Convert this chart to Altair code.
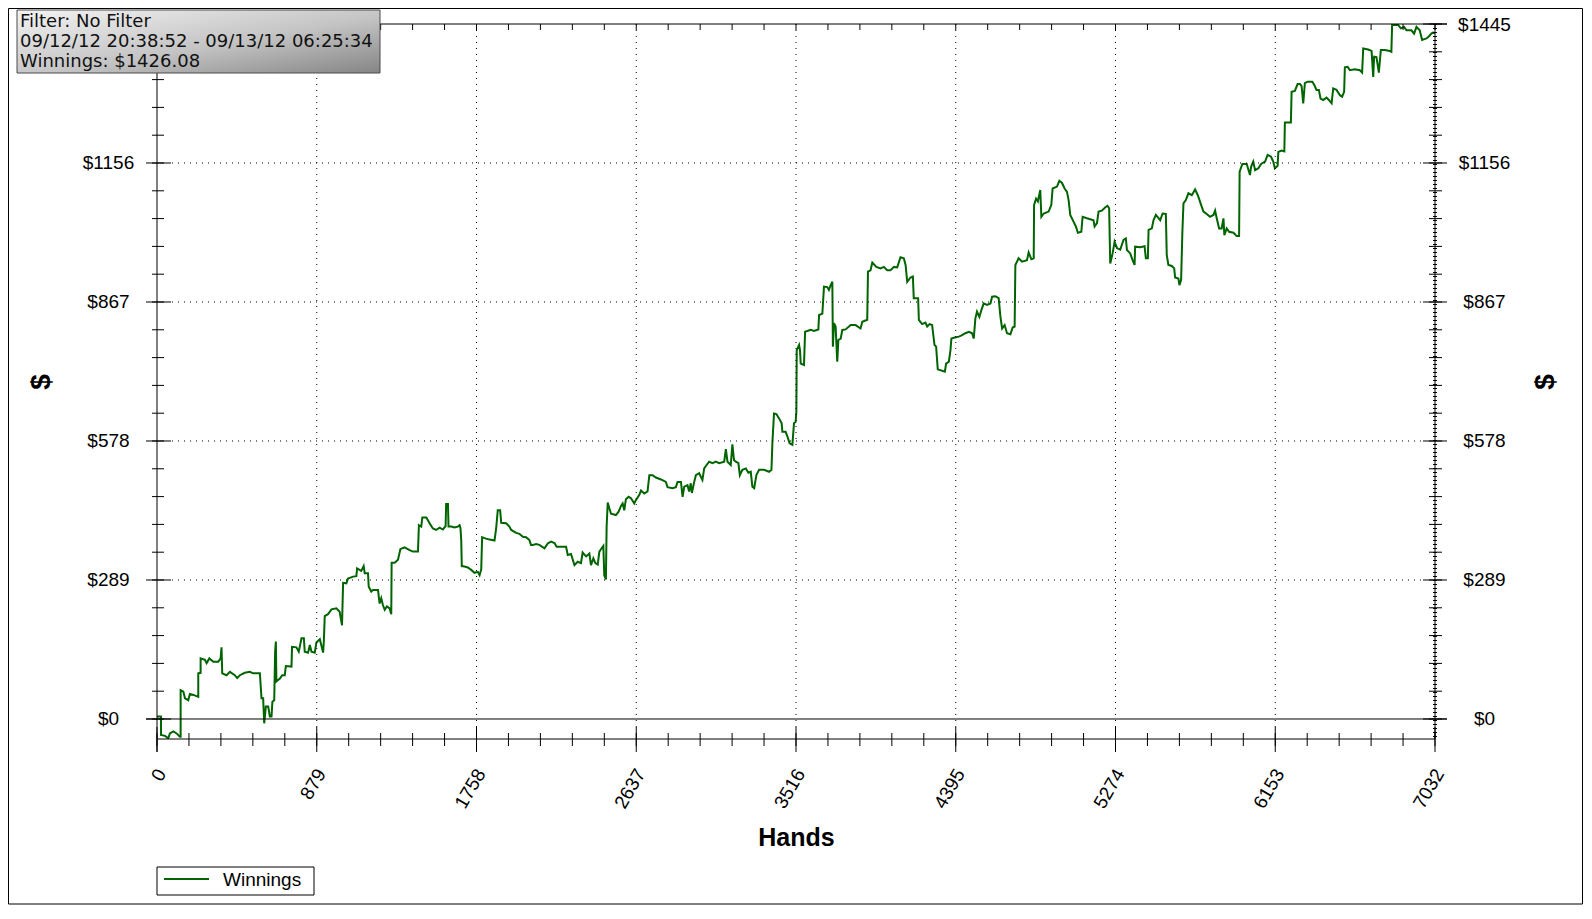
import altair as alt
import pandas as pd

# ---------------- data ----------------
hands = [
    0, 22, 22, 44, 62, 71, 90, 108, 126, 130, 130, 145, 154, 172, 181, 200, 227, 227, 240, 240,
    264, 273, 288, 310, 337, 350, 355, 359, 383, 401, 428, 441, 456, 483, 511, 529, 566, 575, 584, 590,
    599, 612, 621, 630, 635, 645, 650, 654, 657, 676, 689, 703, 709, 740, 743, 767, 780, 795, 808, 813,
    831, 841, 850, 868, 877, 896, 914, 918, 923, 941, 960, 987, 1005, 1018, 1024, 1042, 1051, 1079, 1097, 1101,
    1124, 1137, 1143, 1161, 1165, 1179, 1188, 1216, 1225, 1234, 1243, 1253, 1265, 1280, 1289, 1291, 1308, 1326, 1339, 1362,
    1390, 1408, 1436, 1441, 1454, 1460, 1482, 1500, 1518, 1536, 1555, 1573, 1588, 1591, 1601, 1604, 1619, 1637, 1655, 1665,
    1670, 1674, 1677, 1692, 1710, 1729, 1747, 1765, 1775,
    1784, 1789, 1802, 1830, 1857, 1866, 1875, 1888, 1894, 1921, 1939, 1949, 1976, 1994, 2013, 2031, 2049, 2058, 2068, 2086,
    2104, 2132, 2150, 2168, 2187, 2199, 2223, 2251, 2260, 2278, 2297, 2315, 2333, 2342, 2361, 2379, 2388, 2401, 2412, 2425,
    2434, 2443, 2452, 2456, 2461, 2470, 2474, 2480, 2489, 2498, 2525, 2540, 2553, 2562, 2571, 2580, 2595, 2608, 2626, 2635,
    2654, 2663, 2681, 2699, 2709, 2727, 2745, 2773, 2800, 2809, 2837, 2855, 2864, 2883, 2892, 2901, 2919, 2928, 2937, 2943,
    2956, 2965, 2983, 3001, 3011, 3020, 3038, 3056, 3075, 3093, 3121, 3130, 3139, 3157, 3166, 3175, 3185, 3199, 3207, 3221,
    3240, 3254, 3267, 3276, 3286, 3298, 3313, 3340, 3368, 3381, 3386, 3395, 3408, 3423, 3437, 3441, 3459, 3469, 3481, 3496,
    3505, 3514, 3518, 3520, 3533, 3538, 3542, 3560, 3566, 3597, 3615, 3639, 3643, 3661, 3670, 3688, 3697, 3707, 3716, 3719,
    3725, 3734, 3743, 3749, 3762, 3771, 3789, 3817, 3844, 3871, 3881, 3908, 3912, 3926, 3936, 3958, 3981, 3999, 4018, 4036,
    4055, 4073, 4091, 4109, 4119, 4128, 4146, 4159, 4164, 4188, 4192, 4210, 4228, 4238, 4251, 4265, 4278, 4287, 4296, 4320,
    4335, 4342, 4357, 4366, 4371, 4390, 4412, 4430, 4448, 4467, 4485, 4494, 4503, 4512, 4525, 4536, 4549, 4567, 4586, 4595,
    4613, 4631, 4641, 4650, 4664, 4677, 4696, 4708, 4719, 4723, 4741, 4760, 4787, 4796, 4811, 4824, 4826, 4837, 4847, 4860,
    4866, 4879, 4906, 4921, 4928, 4952, 4965, 4979, 4994, 5007, 5016, 5025, 5043, 5056, 5067, 5086, 5093, 5117, 5135, 5153,
    5159, 5172, 5181, 5199, 5218, 5230, 5239,
    5245, 5258, 5269, 5282, 5300, 5318, 5331, 5337, 5355, 5368, 5379, 5382, 5410, 5434, 5441, 5452, 5456, 5474, 5483, 5496,
    5520, 5533, 5551, 5556, 5565, 5584, 5597, 5602, 5620, 5626, 5635, 5642, 5648, 5661, 5675, 5694, 5712, 5727, 5745, 5758,
    5776, 5794, 5813, 5822, 5831, 5844, 5858, 5868, 5873, 5886, 5899, 5923, 5941, 5954, 5957, 5972, 5996, 6014, 6020, 6032,
    6042, 6060, 6075, 6097, 6111, 6130, 6142, 6151, 6166, 6170, 6188, 6203, 6206, 6239, 6243, 6261, 6276, 6289, 6298, 6307,
    6316, 6331, 6357, 6368, 6380, 6393, 6402, 6417, 6435, 6448, 6463, 6472, 6490, 6509, 6521, 6532, 6536, 6551, 6564, 6591,
    6618, 6631, 6637, 6664, 6683, 6692, 6697, 6710, 6723, 6734, 6756, 6783, 6792, 6796, 6829, 6844, 6862, 6875, 6902, 6917,
    6930, 6948, 6961, 6985, 6998, 7012, 7021, 7032,
]
winnings = [
    5, 5, -33, -35, -40, -30, -26, -30, -37, -37, 60, 57, 43, 39, 52, 50, 46, 95, 96, 126,
    123, 116, 126, 119, 119, 126, 149, 95, 91, 98, 91, 85, 91, 96, 98, 95, 95, 43, 43, -9,
    26, 26, 5, 5, 36, 39, 140, 161, 78, 84, 91, 91, 110, 109, 150, 149, 140, 168, 168, 140,
    138, 154, 140, 138, 159, 166, 138, 161, 214, 218, 228, 230, 223, 195, 283, 282, 292, 296, 297, 313,
    308, 318, 303, 303, 275, 265, 268, 268, 240, 251, 237, 227, 234, 230, 218, 325, 325, 331, 353, 357,
    351, 348, 348, 403, 400, 419, 419, 407, 396, 393, 398, 394, 401, 447, 447, 400, 400, 398, 400, 403,
    396, 372, 318, 317, 315, 310, 304, 306, 299,
    311, 378, 376, 373, 371, 396, 434, 434, 408, 407, 400, 393, 387, 385, 379, 378, 372, 362, 362, 364,
    362, 355, 365, 369, 366, 358, 358, 358, 341, 343, 320, 327, 324, 346, 338, 344, 320, 334, 324, 321,
    348, 353, 358, 360, 299, 290, 400, 450, 438, 427, 424, 431, 443, 448, 434, 457, 462, 459, 448, 455,
    466, 475, 469, 473, 507, 507, 502, 498, 493, 482, 480, 482, 493, 493, 462, 483, 486, 473, 490, 470,
    493, 507, 511, 497, 521, 526, 535, 532, 535, 532, 535, 561, 535, 528, 571, 538, 535, 532, 507, 518,
    521, 512, 514, 483, 480, 507, 518, 518, 514, 518, 573, 635, 634, 625, 615, 597, 597, 587, 573, 570,
    615, 618, 639, 767, 778, 767, 739, 736, 805, 809, 807, 810, 840, 843, 899, 898, 892, 902, 909, 774,
    823, 816, 743, 788, 791, 809, 810, 819, 819, 812, 826, 830, 930, 933, 949, 940, 937, 940, 933, 933,
    940, 939, 960, 958, 944, 909, 918, 920, 875, 875, 830, 821, 824, 816, 821, 819, 778, 774, 727, 724,
    722, 739, 743, 767, 791, 793, 795, 798, 802, 805, 802, 791, 833, 847, 836, 850, 864, 861, 864, 878,
    879, 875, 836, 812, 819, 802, 800, 814, 816, 944, 958, 951, 954, 970, 956, 958, 1069, 1082, 1076, 1100,
    1044, 1051, 1055, 1069, 1103, 1107, 1119, 1115, 1103, 1096, 1079, 1048, 1034, 1024, 1011, 1013, 1044, 1041, 1039, 1037,
    1024, 1031, 1055, 1057, 1064, 1067, 1062,
    947, 968, 992, 979, 976, 996, 999, 975, 968, 954, 944, 982, 981, 983, 958, 958, 1017, 1020, 1037, 1048,
    1037, 1051, 1050, 965, 944, 942, 937, 918, 916, 902, 913, 1013, 1072, 1079, 1093, 1089, 1101, 1089, 1069, 1055,
    1050, 1044, 1048, 1057, 1041, 1020, 1020, 1041, 1006, 1020, 1013, 1011, 1004, 1004, 1138, 1154, 1154, 1131, 1148, 1159,
    1141, 1145, 1154, 1159, 1173, 1169, 1159, 1145, 1150, 1179, 1182, 1180, 1240, 1240, 1304, 1306, 1320, 1320, 1316, 1280,
    1322, 1325, 1325, 1318, 1308, 1308, 1290, 1287, 1292, 1287, 1280, 1311, 1308, 1297, 1294, 1304, 1355, 1356, 1349, 1351,
    1349, 1344, 1394, 1392, 1389, 1335, 1377, 1376, 1344, 1391, 1391, 1389, 1387, 1443, 1443, 1436, 1439, 1432, 1432, 1425,
    1439, 1432, 1412, 1415, 1419, 1425, 1427, 1426,
]

x_tick_values = [0, 879, 1758, 2637, 3516, 4395, 5274, 6153, 7032]
y_tick_values = [0, 289, 578, 867, 1156, 1445]
y_left_label_values = [0, 289, 578, 867, 1156]   # the $1445 label on the left is hidden by the info box
x_grid_values = [879, 1758, 2637, 3516, 4395, 5274, 6153]
y_grid_values = [289, 578, 867, 1156]
x_minor_values = [round(879 / 5 * k, 1) for k in range(41)]
y_minor_values = [round(289 / 5 * k, 1) for k in range(26)]

info_lines = ["Filter: No Filter", "09/12/12 20:38:52 - 09/13/12 06:25:34", "Winnings: $1426.08"]
series_name = "Winnings"
x_title = "Hands"
y_title = "$"

# ---------------- styling ----------------
AX_FONT = "Liberation Sans"
BOX_FONT = "DejaVu Sans"
GREEN = "#006400"
W, H = 1278, 715

X = alt.Scale(domain=[0, 7032], nice=False, zero=False)
Y = alt.Scale(domain=[-41.6, 1445], nice=False, zero=False)

line_df = pd.DataFrame({"hand": hands, "win": winnings, "idx": list(range(len(hands)))})

line = alt.Chart(line_df).mark_line(color=GREEN, strokeWidth=2, clip=True).encode(
    x=alt.X("hand:Q", scale=X, axis=alt.Axis(
        orient="bottom", values=x_tick_values, format="d", labelAngle=-60, labelAlign="right",
        labelBaseline="middle", labelPadding=31, labelOffset=4, ticks=False, tickSize=0,
        domain=False, grid=False, labelFlush=False, labelOverlap=False, labelFont=AX_FONT,
        labelFontSize=19, labelColor="black",
        title=x_title, titleFont=AX_FONT, titleFontSize=25, titleFontWeight="bold", titleColor="black",
        titleX=W / 2, titleY=98, titleAlign="center", titleBaseline="middle")),
    y=alt.Y("win:Q", scale=Y, axis=alt.Axis(
        orient="left", values=y_left_label_values, labelExpr="'$' + datum.value",
        labelAlign="center", labelBaseline="middle", labelPadding=49, ticks=False, tickSize=0,
        domain=False, grid=False, labelOverlap=False, labelFont=AX_FONT, labelFontSize=19,
        labelColor="black", title=None)),
    order="idx:Q",
)

ymaj = pd.DataFrame({"v": y_tick_values})
ymin = pd.DataFrame({"v": y_minor_values})
ygrid = pd.DataFrame({"v": y_grid_values})
xmaj = pd.DataFrame({"h": x_tick_values})
xmin = pd.DataFrame({"h": x_minor_values})
xgrid = pd.DataFrame({"h": x_grid_values})

def yrule(df, x1, x2, **kw):
    return alt.Chart(df).mark_rule(color="black", strokeWidth=1, **kw).encode(
        y=alt.Y("v:Q", scale=Y, axis=None), x=alt.value(x1), x2=alt.value(x2))

def xrule(df, y1, y2, **kw):
    return alt.Chart(df).mark_rule(color="black", strokeWidth=1, **kw).encode(
        x=alt.X("h:Q", scale=X, axis=None), y=alt.value(y1), y2=alt.value(y2))

# right axis carrying the labels
right_major = alt.Chart(ymaj).mark_rule(color="black", strokeWidth=1).encode(
    y=alt.Y("v:Q", scale=Y, axis=alt.Axis(
        orient="right", values=y_tick_values, labelExpr="'$' + datum.value",
        labelAlign="center", labelBaseline="middle", labelPadding=49, ticks=False, tickSize=0,
        domain=False, grid=False, labelOverlap=False, labelFont=AX_FONT, labelFontSize=19,
        labelColor="black", title=None)),
    x=alt.value(W - 12), x2=alt.value(W + 12))

dot = [1, 5]
grid_h = yrule(ygrid, 15, W - 13, strokeDash=dot)
grid_v = xrule(xgrid, 0, H - 12, strokeDash=dot)
left_major = yrule(ymaj, -11, 14)
left_minor = yrule(ymin, -5, 7)
right_minor = yrule(ymin, W - 6, W + 7)
zero_line = yrule(pd.DataFrame({"v": [0]}), -11, W + 12)
top_line = yrule(pd.DataFrame({"v": [1445]}), 0, W + 12)
x_major = xrule(xmaj, H - 12, H + 13)
x_minor_b = xrule(xmin, H - 6, H + 7)
x_minor_t = xrule(xmin, 0, 6)

one = pd.DataFrame({"a": [0]})

def vline(x, y1, y2, **kw):
    return alt.Chart(one).mark_rule(color="black", **kw).encode(
        x=alt.value(x), y=alt.value(y1), y2=alt.value(y2))

def hline(y, x1, x2, **kw):
    return alt.Chart(one).mark_rule(color="black", **kw).encode(
        y=alt.value(y), x=alt.value(x1), x2=alt.value(x2))

left_axis = vline(0, 0, H + 13, strokeWidth=1)
right_dots = vline(W, 0, H, strokeWidth=4, strokeDash=[1, 3])
right_axis = vline(W, 0, H, strokeWidth=1)
bottom_axis = hline(H, 0, W, strokeWidth=1)

def ytitle(x):
    return alt.Chart(one).mark_text(
        text=y_title, angle=270, font=AX_FONT, fontSize=28, fontWeight="bold", color="black",
        align="center", baseline="middle").encode(x=alt.value(x), y=alt.value(358))

title_left = ytitle(-115)
title_right = ytitle(1389)

# info box
gradient = alt.LinearGradient(
    gradient="linear",
    stops=[alt.GradientStop(color="#f3f3f3", offset=0),
           alt.GradientStop(color="#c4c4c4", offset=0.55),
           alt.GradientStop(color="#858585", offset=1)],
    x1=0, y1=0, x2=1, y2=1)
info_box = alt.Chart(one).mark_rect(fill=gradient, stroke="#4a4a4a", strokeWidth=1).encode(
    x=alt.value(-140), x2=alt.value(223), y=alt.value(-14), y2=alt.value(49))

def info_line(i, y):
    return alt.Chart(one).mark_text(
        text=info_lines[i], font=BOX_FONT, fontSize=18, color="#111111",
        align="left", baseline="middle").encode(x=alt.value(-137), y=alt.value(y))

info_1 = info_line(0, -2.3)
info_2 = info_line(1, 17.7)
info_3 = info_line(2, 37.7)

# legend
legend_box = alt.Chart(one).mark_rect(fill="white", stroke="black", strokeWidth=1).encode(
    x=alt.value(0), x2=alt.value(157), y=alt.value(843), y2=alt.value(871))
legend_line = alt.Chart(one).mark_rule(color=GREEN, strokeWidth=2).encode(
    x=alt.value(7), x2=alt.value(52), y=alt.value(855))
legend_text = alt.Chart(one).mark_text(
    text=series_name, font=AX_FONT, fontSize=19, color="black", align="left", baseline="middle").encode(
    x=alt.value(66), y=alt.value(856))

# outer frame
frame = alt.Chart(one).mark_rect(fill=None, stroke="black", strokeWidth=1).encode(
    x=alt.value(-148.5), x2=alt.value(1425.5), y=alt.value(-15.5), y2=alt.value(880))

chart = alt.layer(
    frame, line, right_major, grid_h, grid_v, left_major, left_minor, right_dots, right_minor,
    zero_line, top_line, x_major, x_minor_b, x_minor_t, left_axis, right_axis, bottom_axis,
    title_left, title_right, info_box, info_1, info_2, info_3, legend_box, legend_line, legend_text,
).resolve_axis(x="independent", y="independent").properties(
    width=W, height=H,
    autosize=alt.AutoSizeParams(type="none"),
    padding={"left": 149, "top": 16, "right": 149, "bottom": 166},
    background="white",
).configure_view(stroke=None)

chart.save("out.html", embed_options={"renderer": "svg", "actions": False})
